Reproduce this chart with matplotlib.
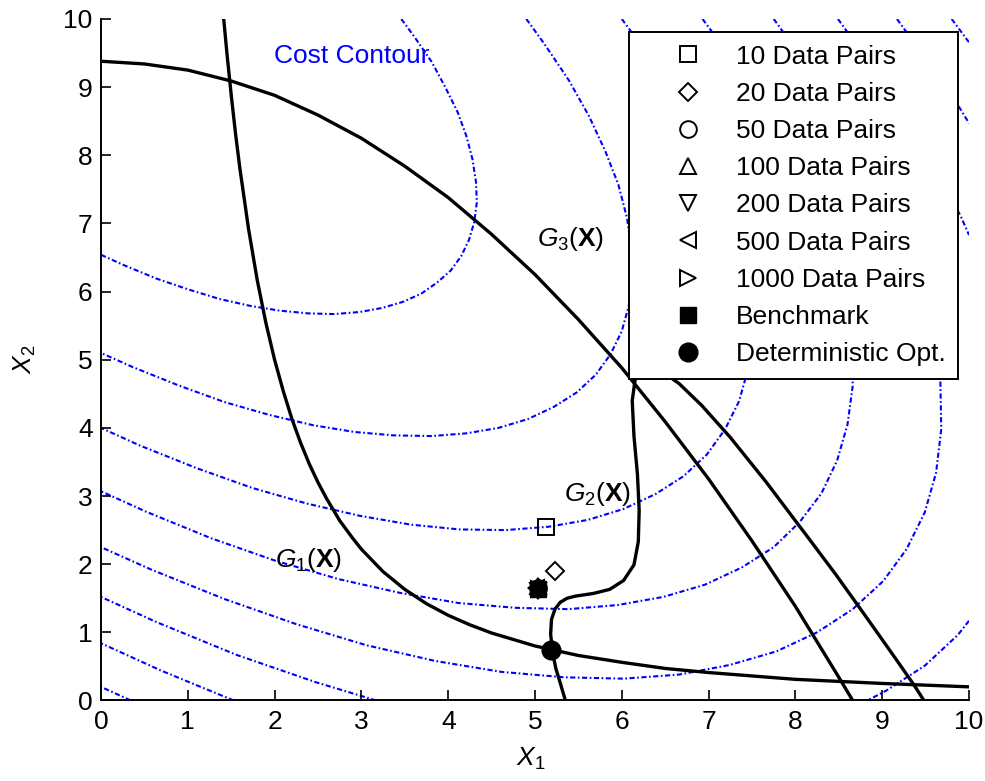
import matplotlib.pyplot as plt

# ---- constraint boundaries G1, G2, G3 ----
g1_x = [1.414, 1.45, 1.5, 1.55, 1.6, 1.7, 1.8, 1.9, 2.0, 2.1, 2.2, 2.3, 2.4, 2.5, 2.6,
        2.75, 2.9, 3.0, 3.25, 3.5, 3.75, 4.0, 4.25, 4.5, 5.0, 5.5, 6.0, 6.5, 7.0, 7.5,
        8.0, 9.0, 10.0]
g1_y = [10.0, 9.51, 8.89, 8.32, 7.81, 6.92, 6.17, 5.54, 5.0, 4.54, 4.13, 3.78, 3.47, 3.2, 2.96,
        2.64, 2.38, 2.22, 1.89, 1.63, 1.42, 1.25, 1.11, 0.99, 0.80, 0.66, 0.56, 0.47, 0.41, 0.36,
        0.31, 0.25, 0.20]

g2_x = [5.35, 5.29, 5.24, 5.21, 5.18, 5.19, 5.23, 5.29, 5.37, 5.46, 5.67, 5.86, 6.02,
        6.14, 6.19, 6.20, 6.18, 6.14, 6.12, 6.16, 6.32, 6.46, 6.66, 6.92, 7.25, 7.66,
        8.17, 8.47, 8.79, 9.14, 9.37, 9.48]
g2_y = [0.0, 0.26, 0.47, 0.66, 0.97, 1.19, 1.34, 1.44, 1.50, 1.53, 1.57, 1.63, 1.76,
        1.99, 2.33, 2.79, 3.32, 3.88, 4.40, 4.77, 4.90, 4.83, 4.65, 4.33, 3.86, 3.21,
        2.35, 1.84, 1.27, 0.64, 0.22, 0.0]

g3_x = [0, 0.5, 1, 1.5, 2, 2.5, 3, 3.5, 4, 4.5, 5, 5.5, 6, 6.5, 7, 7.5, 8, 8.5, 8.66]
g3_y = [9.38, 9.34, 9.25, 9.09, 8.88, 8.59, 8.25, 7.84, 7.38, 6.84, 6.25, 5.59, 4.88, 4.09,
        3.25, 2.34, 1.38, 0.34, 0.0]

# ---- cost contours (blue dotted arcs) ----
cost_05_x = [3.46, 3.61, 3.81, 3.97, 4.11, 4.21, 4.28, 4.32, 4.33, 4.30, 4.24, 4.15, 4.03, 3.87,
             3.69, 3.48, 3.24, 2.98, 2.69, 2.39, 2.06, 1.72, 1.37, 1.01, 0.64, 0.26, 0.00]
cost_05_y = [10.00, 9.74, 9.37, 8.99, 8.63, 8.28, 7.94, 7.61, 7.31, 7.02, 6.76, 6.52, 6.31, 6.13,
             5.97, 5.85, 5.76, 5.70, 5.67, 5.68, 5.72, 5.79, 5.89, 6.03, 6.19, 6.39, 6.54]

cost_10_x = [4.90, 5.11, 5.39, 5.62, 5.81, 5.96, 6.06, 6.11, 6.12, 6.08, 6.00, 5.87, 5.70, 5.48,
             5.22, 4.92, 4.58, 4.21, 3.81, 3.37, 2.92, 2.44, 1.94, 1.42, 0.90, 0.37, 0.00]
cost_10_y = [10.00, 9.63, 9.10, 8.58, 8.06, 7.57, 7.08, 6.63, 6.19, 5.79, 5.42, 5.08, 4.78, 4.52,
             4.31, 4.13, 4.00, 3.92, 3.88, 3.89, 3.94, 4.04, 4.19, 4.38, 4.62, 4.89, 5.10]

cost_15_x = [6.00, 6.26, 6.60, 6.88, 7.12, 7.29, 7.42, 7.49, 7.50, 7.45, 7.35, 7.19, 6.98, 6.71,
             6.39, 6.02, 5.61, 5.16, 4.66, 4.13, 3.57, 2.98, 2.37, 1.74, 1.10, 0.45, 0.00]
cost_15_y = [10.00, 9.55, 8.90, 8.26, 7.63, 7.02, 6.43, 5.87, 5.34, 4.84, 4.39, 3.98, 3.61, 3.29,
             3.03, 2.81, 2.65, 2.55, 2.50, 2.51, 2.58, 2.71, 2.89, 3.12, 3.41, 3.74, 4.00]

cost_20_x = [6.93, 7.23, 7.62, 7.95, 8.22, 8.42, 8.57, 8.65, 8.66, 8.60, 8.48, 8.30, 8.05, 7.75,
             7.38, 6.96, 6.48, 5.95, 5.38, 4.77, 4.12, 3.44, 2.74, 2.01, 1.27, 0.52, 0.00]
cost_20_y = [10.00, 9.48, 8.73, 7.99, 7.26, 6.56, 5.88, 5.23, 4.62, 4.05, 3.52, 3.04, 2.62, 2.25,
             1.95, 1.70, 1.52, 1.40, 1.34, 1.36, 1.43, 1.58, 1.78, 2.05, 2.38, 2.77, 3.07]

cost_25_x = [7.75, 8.08, 8.52, 8.88, 9.19, 9.42, 9.58, 9.67, 9.68, 9.62, 9.49, 9.28, 9.01, 8.66,
             8.25, 7.78, 7.24, 6.66, 6.02, 5.34, 4.61, 3.85, 3.06, 2.25, 1.42, 0.58, 0.00]
cost_25_y = [10.00, 9.42, 8.58, 7.75, 6.94, 6.15, 5.39, 4.67, 3.98, 3.34, 2.76, 2.22, 1.75, 1.34,
             1.00, 0.72, 0.52, 0.38, 0.32, 0.34, 0.42, 0.58, 0.81, 1.12, 1.49, 1.92, 2.25]

cost_30a_x = [8.49, 8.85, 9.33, 9.73, 9.91, 10.0]
cost_30a_y = [10.0, 9.36, 8.44, 7.54, 7.09, 6.83]
cost_30b_x = [10.0, 9.87, 9.49, 9.04, 8.83]
cost_30b_y = [1.17, 0.96, 0.51, 0.14, 0.0]
cost_30c_x = [3.17, 2.47, 1.56, 0.64, 0.0]
cost_30c_y = [0.0, 0.27, 0.67, 1.15, 1.52]

cost_35a_x = [9.17, 9.56, 9.88, 10.0]
cost_35a_y = [10.0, 9.31, 8.72, 8.47]
cost_35c_x = [1.53, 1.09, 0.69, 0.0]
cost_35c_y = [0.0, 0.23, 0.44, 0.84]

cost_40a_x = [9.80, 9.98, 10.0]
cost_40a_y = [10.0, 9.69, 9.66]
cost_40c_x = [0.34, 0.31, 0.0]
cost_40c_y = [0.0, 0.02, 0.20]

# ---- optimum points ----
labels = ['10 Data Pairs', '20 Data Pairs', '50 Data Pairs', '100 Data Pairs',
          '200 Data Pairs', '500 Data Pairs', '1000 Data Pairs']
markers = ['s', 'D', 'o', '^', 'v', '<', '>']
opt_x = [5.13, 5.23, 5.03, 5.03, 5.04, 5.01, 5.05]
opt_y = [2.54, 1.90, 1.65, 1.68, 1.61, 1.65, 1.64]
bench_x, bench_y = 5.03, 1.63
det_x, det_y = 5.19, 0.74

plt.rcParams['font.family'] = 'Liberation Sans'
plt.rcParams['mathtext.fontset'] = 'custom'
plt.rcParams['mathtext.rm'] = 'Liberation Sans'
plt.rcParams['mathtext.it'] = 'Liberation Sans:italic'
plt.rcParams['mathtext.bf'] = 'Liberation Sans:bold'
plt.rcParams['font.size'] = 19

fig = plt.figure(figsize=(9.85, 7.81), dpi=100)
ax = fig.add_axes([0.1025, 0.1031, 0.8813, 0.8726])

dotted = dict(color='b', lw=1.5, ls=(0, (2.5, 1.2, 0.8, 1.2)), zorder=1)
contours = [(cost_05_x, cost_05_y), (cost_10_x, cost_10_y), (cost_15_x, cost_15_y),
            (cost_20_x, cost_20_y), (cost_25_x, cost_25_y),
            (cost_30a_x, cost_30a_y), (cost_30b_x, cost_30b_y), (cost_30c_x, cost_30c_y),
            (cost_35a_x, cost_35a_y), (cost_35c_x, cost_35c_y),
            (cost_40a_x, cost_40a_y), (cost_40c_x, cost_40c_y)]
for cx, cy in contours:
    ax.plot(cx, cy, **dotted)

for gx, gy in [(g1_x, g1_y), (g2_x, g2_y), (g3_x, g3_y)]:
    ax.plot(gx, gy, color='k', lw=2.4, zorder=2, solid_joinstyle='round')

# benchmark drawn first so the hollow markers sit on top of it
ax.plot(bench_x, bench_y, 's', ls='none', ms=12, color='k', zorder=3, label='Benchmark')
for i in range(len(labels)):
    ms = 12 if markers[i] != 'D' else 9.5
    ax.plot(opt_x[i], opt_y[i], markers[i], ls='none', ms=ms, mfc='none',
            mec='k', mew=1.4, zorder=4, label=labels[i])
ax.plot(det_x, det_y, 'o', ls='none', ms=13.5, color='k', zorder=4,
        label='Deterministic Opt.')

ax.text(1.99, 9.36, 'Cost Contour', color='b')
ax.text(5.02, 6.67, r'$G_3(\mathbf{X})$')
ax.text(5.33, 2.92, r'$G_2(\mathbf{X})$')
ax.text(2.00, 1.96, r'$G_1(\mathbf{X})$')

ax.set_xlim(0, 10)
ax.set_ylim(0, 10)
ax.set_xticks(range(11))
ax.set_yticks(range(11))
ax.spines['top'].set_visible(False)
ax.spines['right'].set_visible(False)
ax.spines['left'].set_linewidth(1.4)
ax.spines['bottom'].set_linewidth(1.4)
ax.tick_params(axis='both', direction='in', length=7, width=1.2, labelsize=19)
ax.tick_params(axis='x', pad=7)
ax.tick_params(axis='y', pad=6)

ax.set_xlabel(r'$X_1$')
ax.set_ylabel(r'$X_2$')
ax.xaxis.set_label_coords(0.495, -0.066)
ax.yaxis.set_label_coords(-0.073, 0.5)

# legend order as in the picture
handles, names = ax.get_legend_handles_labels()
order = names[1:8] + ['Benchmark', 'Deterministic Opt.']
hmap = dict(zip(names, handles))
leg = ax.legend([hmap[n] for n in order], order, loc='upper right',
                bbox_to_anchor=(0.9873, 0.981), borderaxespad=0,
                fancybox=False, edgecolor='k', framealpha=1, numpoints=1,
                handlelength=3.5, handletextpad=0.06, borderpad=0.48, labelspacing=0.5)
leg.get_frame().set_linewidth(1.4)
leg.set_zorder(10)

fig.savefig('out.png', dpi=100)
